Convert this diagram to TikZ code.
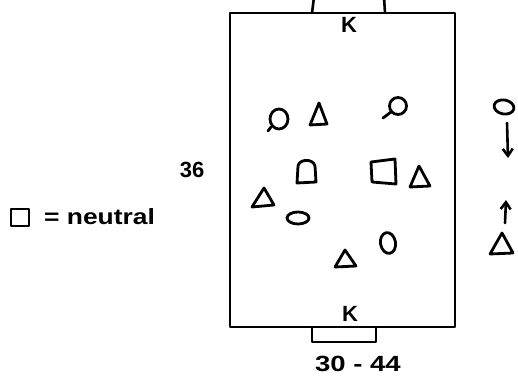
\documentclass[tikz,border=0pt]{standalone}
\usepackage{fontspec}
\usepackage{graphicx}
\setmainfont{Liberation Sans}
\usetikzlibrary{arrows.meta}
\begin{document}
\begin{tikzpicture}[x=1pt,y=-1pt, line cap=round, line join=round,
  pen/.style={line width=2.8pt},
  field/.style={line width=2.6pt},
  lbl/.style={inner sep=0pt, font=\fontsize{22}{22}\selectfont\bfseries},
  arr/.style={line width=2.6pt, -{Straight Barb[length=7pt,width=10pt]}},
]
\useasboundingbox (0,0) rectangle (518,379);
% field
\draw[field] (230,13) rectangle (455,327);
% goals
\draw[field] (312,13) -- (314,-3) -- (384,-3) -- (385,13);
\draw[field] (312,327) -- (312,342) -- (376,342) -- (376,327);
\node[lbl] (ktop) at (349,25) {K};
\node[lbl] (kbot) at (350,314) {K};
\node[lbl] (len) at (358,364) {\scalebox{1.25}[1]{30 - 44}};
\node[lbl] (wid) at (192,170) {36};
% legend
\draw[pen] (11,209) rectangle (29,226);
\node[lbl, anchor=west] (neu) at (44,217) {\scalebox{1.2}[1]{= neutral}};
% players inside
\draw[pen] (279,119) ellipse [x radius=9, y radius=10];
\draw[pen] (271,127) -- (268,131);
\draw[pen] (310,125) -- (319,103) -- (327,124) -- cycle;
\draw[pen] (398,106) ellipse [x radius=8.5, y radius=8.5];
\draw[pen] (391,112) -- (383,118);
\draw[pen] (297,183) -- (298,166) .. controls (299,159) and (313,158) .. (315,166) -- (316,182) -- cycle;
\draw[pen] (371,162) -- (395,159) -- (396,184) -- (372,182) -- cycle;
\draw[pen] (410,187) -- (419,166) -- (430,186) -- cycle;
\draw[pen] (252,207) -- (264,188) -- (274,205) -- cycle;
\draw[pen] (298,218) ellipse [x radius=11, y radius=6];
\draw[pen, rotate around={10:(388,243)}] (388,243) ellipse [x radius=7.5, y radius=10.5];
\draw[pen] (335,267) -- (345,250) -- (356,266) -- cycle;
% right side key
\draw[pen, rotate around={-10:(504,107)}] (504,107) ellipse [x radius=10, y radius=7];
\coordinate (d1) at (507,123);
\coordinate (d2) at (508,158);
\draw[arr] (d1) -- (d2);
\coordinate (u1) at (505,223);
\coordinate (u2) at (506,200);
\draw[arr] (u1) -- (u2);
\draw[pen] (490,254) -- (502,233) -- (513,253) -- cycle;
\end{tikzpicture}
\end{document}
